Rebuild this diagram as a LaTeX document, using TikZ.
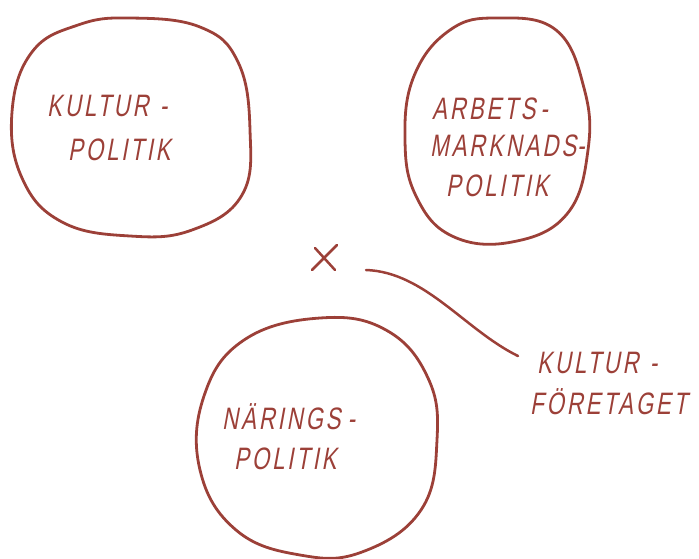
\documentclass[tikz,border=0pt]{standalone}
\usepackage{fontspec}
\newfontfamily\hand[FakeSlant=0.18,FakeStretch=0.72,LetterSpace=9]{Liberation Sans}
\definecolor{ink}{HTML}{9C4038}
\newcommand{\hy}[1]{\hspace{#1}-}
\begin{document}
\begin{tikzpicture}[x=1pt,y=-1pt,
  blob/.style={draw=ink,line width=2.8pt,line cap=round,line join=round},
  lbl/.style={anchor=base west,inner sep=0pt,text=ink,font=\hand\fontsize{31}{34}\selectfont}]
\useasboundingbox (0,0) rectangle (699,558);
% circles
\draw[blob] plot[smooth cycle,tension=0.7] coordinates {(130,18) (200,27) (238,62) (250,130) (242,195) (192,230) (130,236) (62,222) (22,178) (12,112) (32,52) (78,25)};
\draw[blob] plot[smooth cycle,tension=0.7] coordinates {(497,18) (556,30) (584,88) (588,150) (567,214) (512,242) (452,236) (416,196) (405,140) (414,76) (450,30)};
\draw[blob] plot[smooth cycle,tension=0.7] coordinates {(320,318) (386,330) (428,378) (437,440) (421,510) (362,552) (300,555) (236,530) (200,470) (204,396) (244,340)};
% labels
\node[lbl] (k1) at (47,116) {KULTUR\hy{11pt}};
\node[lbl] (k2) at (68,160) {POLITIK};
\node[lbl] (a1) at (432,119) {ARBETS\hy{5pt}};
\node[lbl] (a2) at (430,156) {MARKNADS\hy{1pt}};
\node[lbl] (a3) at (446,196) {POLITIK};
\node[lbl] (n1) at (222,429) {NÄRINGS\hy{7pt}};
\node[lbl] (n2) at (234,469) {POLITIK};
\node[lbl] (f1) at (537,373) {KULTUR\hy{11pt}};
\node[lbl] (f2) at (530,414) {FÖRETAGET};
% cross
\coordinate (x) at (323,259);
\draw[blob,line width=2.5pt] (312,270) -- (337,245);
\draw[blob,line width=2.5pt] (315,248) -- (335,270);
% connector
\coordinate (c0) at (366,270);
\coordinate (c1) at (518,356);
\draw[blob,line width=2.5pt] (c0) .. controls (425,272) and (465,330) .. (c1);
\end{tikzpicture}
\end{document}
